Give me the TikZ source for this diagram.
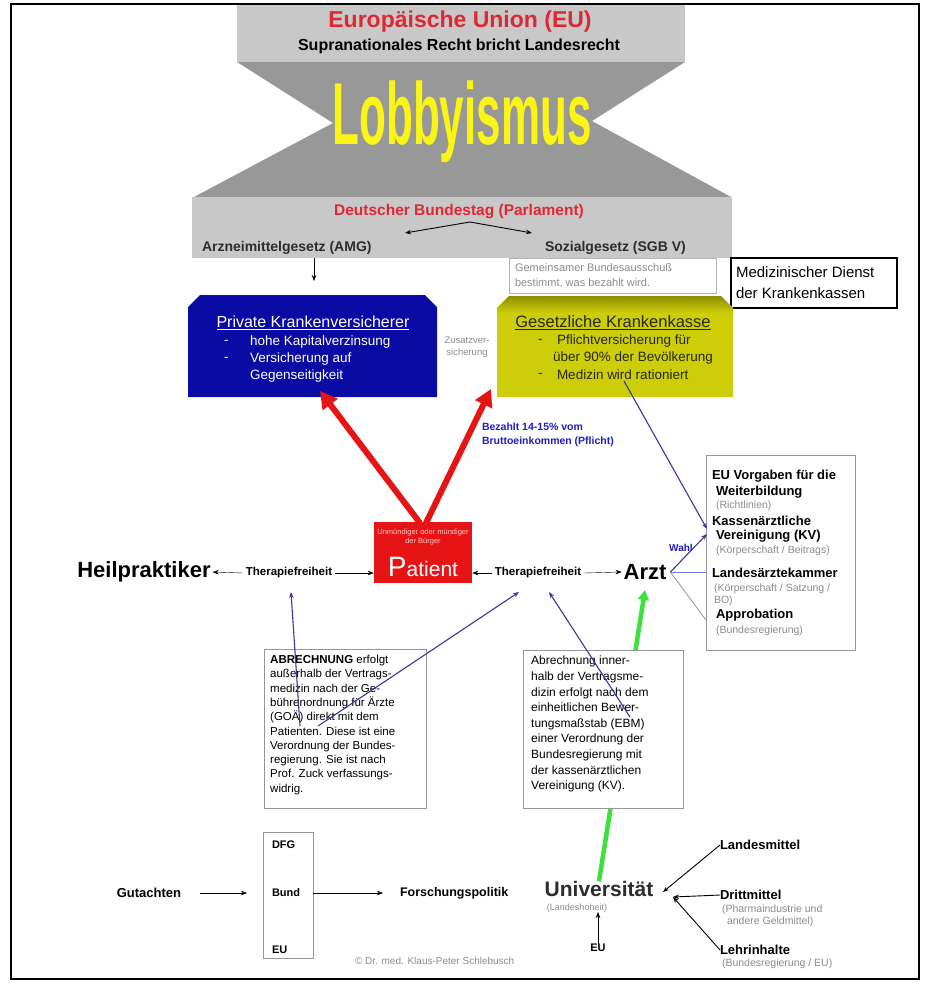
\documentclass[tikz,border=0pt]{standalone}
\usepackage{fontspec}
\setmainfont{Liberation Sans}
\usetikzlibrary{arrows.meta}
\newcommand{\myfs}[1]{\fontsize{#1}{#1}\selectfont}
\definecolor{lgrey}{RGB}{200,200,200}
\definecolor{dgrey}{RGB}{152,152,152}
\definecolor{eured}{RGB}{222,40,52}
\definecolor{lobyellow}{RGB}{250,245,20}
\definecolor{dtext}{RGB}{45,45,45}
\definecolor{pkvblue}{RGB}{10,10,165}
\definecolor{gkvolive}{RGB}{205,205,10}
\definecolor{gkvdark}{RGB}{140,140,0}
\definecolor{gkvtext}{RGB}{40,40,0}
\definecolor{patred}{RGB}{230,20,20}
\definecolor{pinkw}{RGB}{255,200,200}
\definecolor{navy}{RGB}{55,55,165}
\definecolor{lblue}{RGB}{30,30,200}
\definecolor{bgreen}{RGB}{60,225,60}
\definecolor{txtgrey}{RGB}{140,140,140}
\definecolor{boxgrey}{RGB}{150,150,150}
\definecolor{lbox}{RGB}{180,180,180}
\begin{document}
\begin{tikzpicture}[x=1pt,y=-1pt,
  txt/.style={inner sep=0pt,outer sep=0pt},
  lt/.style={txt,anchor=west},
  frame/.style={draw=boxgrey,inner sep=0pt,outer sep=0pt,anchor=north west},
  arr/.style={-{Stealth[length=6pt,width=4.5pt]}},
  darr/.style={{Stealth[length=6pt,width=4.5pt]}-{Stealth[length=6pt,width=4.5pt]}},
  redarr/.style={patred,line width=6pt,-{Triangle[length=17pt,width=18pt]}},
  bluearr/.style={navy,line width=1.1pt,-{Stealth[length=6pt,width=4.5pt]}},
  boldtx/.style={lt,font=\bfseries\myfs{13}},
  greytx/.style={lt,font=\myfs{10.5},text=txtgrey},
  pkvitem/.style={lt,font=\myfs{13.5},text=white},
  gkvitem/.style={lt,font=\myfs{13.5},text=gkvtext}]
\useasboundingbox (0,0) rectangle (930,989);
\fill[white] (0,0) rectangle (930,989);

% ---------- EU / Lobbyismus / Bundestag ----------
\fill[lgrey] (237,4) rectangle (685,62);
\fill[dgrey] (237,62) -- (685,62) -- (592,121) -- (731,197) -- (194,197) -- (333,123) -- cycle;
\fill[lgrey] (192,197) rectangle (732,258);
\node[txt,font=\bfseries\myfs{23},text=eured] (eu) at (460,22) {Europäische Union (EU)};
\node[txt,font=\bfseries\myfs{16}] (supra) at (459,46) {Supranationales Recht bricht Landesrecht};
\node[txt,text=lobyellow] (lobby) at (462,122) {\scalebox{1}[2]{\bfseries\myfs{44}Lobbyismus}};
\node[txt,font=\bfseries\myfs{15.5},text=eured] (bt) at (459,212) {Deutscher Bundestag (Parlament)};
\node[lt,font=\bfseries\myfs{14},text=dtext] (amg) at (202,248) {Arzneimittelgesetz (AMG)};
\node[lt,font=\bfseries\myfs{14},text=dtext] (sgb) at (545,248) {Sozialgesetz (SGB V)};
\coordinate (btpeak) at (470,222);
\coordinate (btl) at (405,233);
\coordinate (btr) at (532,233);
\draw[darr,line width=0.9pt] (btl) -- (btpeak) -- (btr);
\coordinate (amgdown) at (314,258);
\coordinate (amgtip) at (314,281);
\draw[arr,line width=0.6pt] (amgdown) -- (amgtip);

% ---------- G-BA and MDK ----------
\node[frame,draw=lbox,fill=white,minimum width=207,minimum height=35] (gba) at (509,258) {};
\node[lt,font=\fontsize{11}{15}\selectfont,text=txtgrey,align=left] (gbatxt) at (515,275.5) {Gemeinsamer Bundesausschuß\\bestimmt, was bezahlt wird.};
\node[frame,draw=black,line width=1.2pt,fill=white,minimum width=166,minimum height=50] (mdk) at (731,258) {};
\node[lt,font=\fontsize{15}{21}\selectfont,align=left] (mdktxt) at (736,283) {Medizinischer Dienst\\der Krankenkassen};

% ---------- PKV ----------
\fill[pkvblue] (188,307) -- (200,295) -- (425,295) -- (437,307) -- (437,397) -- (188,397) -- cycle;
\node[txt,minimum width=249,minimum height=102,anchor=north west] (pkv) at (188,295) {};
\node[txt,font=\myfs{16},text=white] (pkvt) at (313,323) {\underline{Private Krankenversicherer}};
\node[pkvitem] (pd1) at (224,342) {-};
\node[pkvitem] (pi1) at (250,342) {hohe Kapitalverzinsung};
\node[pkvitem] (pd2) at (224,359) {-};
\node[pkvitem] (pi2) at (250,359) {Versicherung auf};
\node[pkvitem] (pi3) at (250,376) {Gegenseitigkeit};

\node[txt,font=\fontsize{9.5}{12}\selectfont,text=txtgrey,align=center] (zus) at (467,347) {Zusatzver-\\sicherung};

% ---------- GKV ----------
\fill[gkvolive] (497,308) -- (509,296) -- (721,296) -- (733,308) -- (733,397) -- (497,397) -- cycle;
\shade[top color=gkvdark,bottom color=gkvolive] (497,308) -- (509,296) -- (721,296) -- (733,308) -- (733,313) -- (497,313) -- cycle;
\node[txt,minimum width=236,minimum height=101,anchor=north west] (gkv) at (497,296) {};
\node[txt,font=\myfs{16.5},text=gkvtext] (gkvt) at (613,323) {\underline{Gesetzliche Krankenkasse}};
\node[gkvitem] (gd1) at (538,341) {-};
\node[gkvitem] (gi1) at (557,341) {Pflichtversicherung für};
\node[gkvitem] (gi2) at (553,358) {über 90\% der Bevölkerung};
\node[gkvitem] (gd3) at (538,375) {-};
\node[gkvitem] (gi3) at (557,375) {Medizin wird rationiert};

% ---------- Patient ----------
\node[fill=patred,minimum width=98,minimum height=61,inner sep=0pt] (patient) at (423,552.5) {};
\node[txt,text=pinkw,font=\fontsize{7.5}{9.5}\selectfont,align=center] (patsub) at (423,537) {Unmündiger oder mündiger\\der Bürger};
\node[txt,text=white] (patname) at (423,567) {{\myfs{28}P}{\myfs{21}atient}};
\coordinate (patl) at (420,523);
\coordinate (patr) at (426,523);
\coordinate (pkvtip) at (320,391);
\coordinate (gkvtip) at (491,389);
\draw[redarr] (patl) -- (pkvtip);
\draw[redarr] (patr) -- (gkvtip);
\node[lt,text=lblue,font=\bfseries\fontsize{10.5}{14}\selectfont,align=left] (bez) at (482,435) {Bezahlt 14-15\% vom\\Bruttoeinkommen (Pflicht)};

% ---------- Row Heilpraktiker - Patient - Arzt ----------
\node[txt,font=\bfseries\myfs{22}] (heil) at (144,572) {Heilpraktiker};
\node[txt,font=\bfseries\myfs{11.5}] (th1) at (289,573) {Therapiefreiheit};
\node[txt,font=\bfseries\myfs{22}] (arzt) at (645,572) {Arzt};
\node[txt,font=\bfseries\myfs{11.5}] (th2) at (538,573) {Therapiefreiheit};
\draw[arr] ([xshift=-3pt]th1.west) -- ([xshift=2pt]heil.east);
\draw[arr] ([xshift=3pt]th1.east) -- (patient.west |- th1.east);
\draw[arr] ([xshift=-3pt]th2.west) -- (patient.east |- th2.west);
\draw[arr] ([xshift=3pt]th2.east) -- ([xshift=-2pt]arzt.west);

% ---------- right box ----------
\node[frame,minimum width=149,minimum height=195] (rbox) at (706,455) {};
\node[boldtx] (r1) at (712,476) {EU Vorgaben für die};
\node[boldtx] (r2) at (716,492) {Weiterbildung};
\node[greytx] (r3) at (716,506) {(Richtlinien)};
\node[boldtx] (r4) at (712,521) {Kassenärztliche};
\node[boldtx] (r5) at (716,536) {Vereinigung (KV)};
\node[greytx] (r6) at (716,551) {(Körperschaft / Beitrags)};
\node[boldtx] (r7) at (712,573) {Landesärztekammer};
\node[greytx] (r8) at (714,589) {(Körperschaft / Satzung /};
\node[greytx] (r9) at (714,601) {BO)};
\node[boldtx] (r10) at (716,615) {Approbation};
\node[greytx] (r11) at (716,631) {(Bundesregierung)};

\coordinate (gkvout) at (624,381);
\coordinate (kvtip) at (707,529);
\coordinate (kvtip2) at (707,534);
\coordinate (approbc) at (706,620);
\draw[bluearr] (gkvout) -- (kvtip);
\draw[bluearr] ([xshift=4pt]arzt.east) -- (kvtip2);
\draw[lblue!60,line width=0.7pt] ([xshift=4pt]arzt.east) -- (arzt.east -| rbox.west);
\draw[boxgrey,line width=0.8pt] ([xshift=4pt]arzt.east) -- (approbc);
\node[txt,text=lblue,font=\bfseries\myfs{10}] (wahl) at (681,548) {Wahl};

% ---------- Universität block ----------
\node[txt,font=\bfseries\myfs{21},text=dtext] (uni) at (599,889) {Universität};
\coordinate (greentop) at (645,590);
\draw[bgreen,line width=4.5pt,-{Triangle[length=10pt,width=11pt]}] (uni.north) -- (greentop);

% ---------- text boxes ----------
\node[frame,fill=white,minimum width=162,minimum height=159] (abrbox) at (264,649) {};
\node[anchor=north west,inner sep=0pt,font=\fontsize{11.5}{14.3}\selectfont,align=left] (abrtxt) at (270,655) {\textbf{ABRECHNUNG} erfolgt\\außerhalb der Vertrags-\\medizin nach der Ge-\\bührenordnung für Ärzte\\(GOÄ) direkt mit dem\\Patienten. Diese ist eine\\Verordnung der Bundes-\\regierung. Sie ist nach\\Prof. Zuck verfassungs-\\widrig.};
\node[frame,fill=white,minimum width=160,minimum height=158] (ebmbox) at (523,650) {};
\node[anchor=north west,inner sep=0pt,font=\fontsize{12}{15.6}\selectfont,align=left] (ebmtxt) at (531,656) {Abrechnung inner-\\halb der Vertragsme-\\dizin erfolgt nach dem\\einheitlichen Bewer-\\tungsmaßstab (EBM)\\einer Verordnung der\\Bundesregierung mit\\der kassenärztlichen\\Vereinigung (KV).};

\coordinate (abro1) at (300,726);
\coordinate (abro2) at (318,726);
\coordinate (th1tip) at (291,592);
\coordinate (th2tipl) at (519,592);
\coordinate (th2tipr) at (549,592);
\coordinate (ebmo) at (630,717);
\draw[bluearr] (abro1) -- (th1tip);
\draw[bluearr] (abro2) -- (th2tipl);
\draw[bluearr] (ebmo) -- (th2tipr);

% ---------- bottom ----------
\node[txt,font=\bfseries\myfs{13}] (gut) at (149,893) {Gutachten};
\node[frame,minimum width=50,minimum height=126] (fbox) at (263,832) {};
\node[lt,font=\bfseries\myfs{11}] (dfg) at (272,845) {DFG};
\node[lt,font=\bfseries\myfs{11}] (bund) at (272,893) {Bund};
\node[lt,font=\bfseries\myfs{11}] (eub) at (272,950) {EU};
\node[lt,font=\bfseries\myfs{12.5}] (fp) at (400,893) {Forschungspolitik};
\draw[arr] ([xshift=19pt]gut.east) -- ([xshift=-25pt]bund.west);
\draw[arr] (fbox.east |- bund.west) -- ([xshift=-17pt]fp.west);
\node[lt,font=\myfs{10},text=txtgrey] (copy) at (355,961) {© Dr. med. Klaus-Peter Schlebusch};

\node[txt,font=\myfs{9},text=txtgrey] (landesh) at (577,908) {(Landeshoheit)};
\node[txt,font=\bfseries\myfs{11}] (eubot) at (598,948) {EU};
\coordinate (unibot) at (598,912);
\draw[arr,line width=0.8pt] (eubot.north) -- (unibot);
\node[boldtx] (lm) at (720,845) {Landesmittel};
\node[boldtx] (dm) at (720,895) {Drittmittel};
\node[greytx] (dm1) at (722,910) {(Pharmaindustrie und};
\node[greytx] (dm2) at (727,922) {andere Geldmittel)};
\node[boldtx] (lh) at (720,950) {Lehrinhalte};
\node[greytx] (lh1) at (722,964) {(Bundesregierung / EU)};
\coordinate (unij1) at (663,892);
\coordinate (unij2) at (673,897);
\draw[arr,line width=0.9pt] (lm.west) -- (unij1);
\draw[arr,line width=0.9pt] (dm.west) -- (unij2);
\draw[arr,line width=0.9pt] (lh.west) -- (unij2);

% ---------- outer frame ----------
\draw[line width=2pt] (11,4) rectangle (919,979);
\end{tikzpicture}
\end{document}
